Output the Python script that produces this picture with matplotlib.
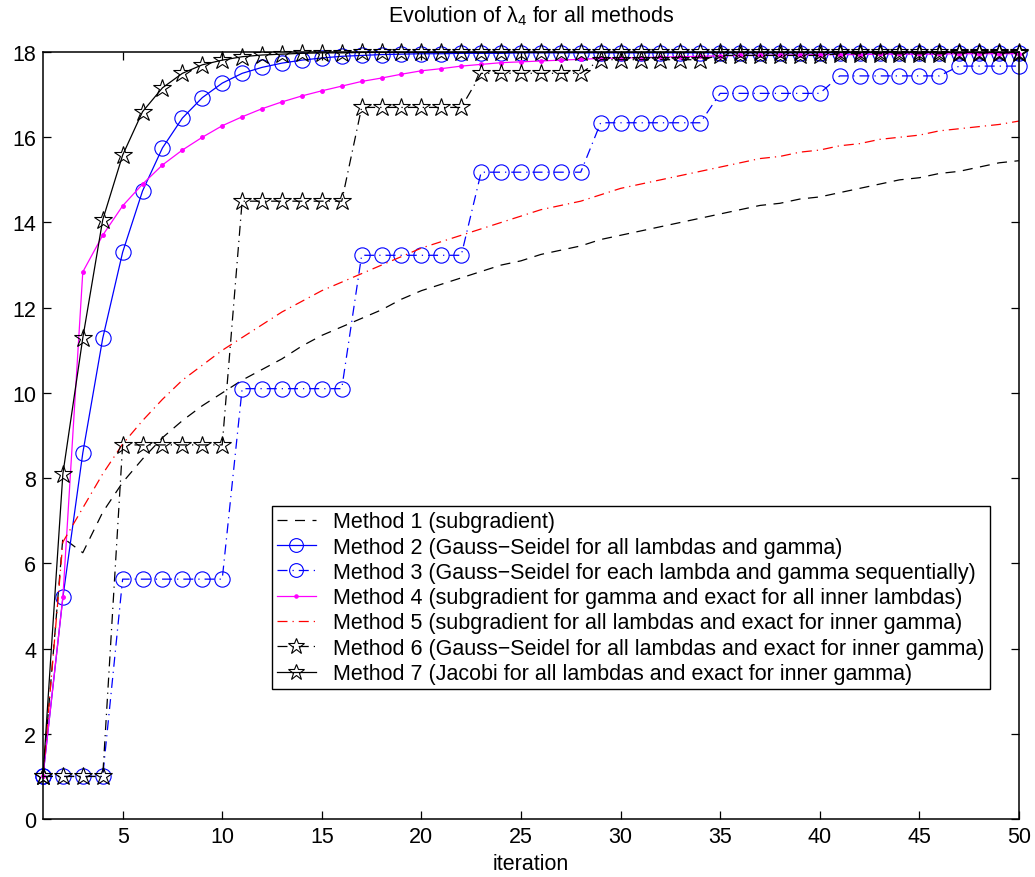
import matplotlib
matplotlib.use('Agg')
import matplotlib.pyplot as plt
import numpy as np

plt.rcParams['font.family'] = ['Liberation Sans', 'DejaVu Sans']
plt.rcParams['mathtext.fontset'] = 'custom'
plt.rcParams['mathtext.rm'] = 'Liberation Sans'
plt.rcParams['mathtext.it'] = 'Liberation Sans'
plt.rcParams['font.size'] = 15.5

# iterations 1..50
iterations = list(range(1, 51))

# Method 1 (subgradient)
m1 = [1.0, 6.6, 6.25, 7.2, 7.9, 8.45, 8.95, 9.35, 9.7, 10.0,
      10.3, 10.55, 10.8, 11.1, 11.35, 11.55, 11.75, 11.95, 12.2, 12.4,
      12.55, 12.7, 12.85, 13.0, 13.1, 13.25, 13.35, 13.45, 13.6, 13.7,
      13.8, 13.9, 14.0, 14.1, 14.2, 14.3, 14.4, 14.45, 14.55, 14.6,
      14.7, 14.8, 14.9, 15.0, 15.05, 15.15, 15.2, 15.3, 15.4, 15.45]

# Method 2 (Gauss-Seidel for all lambdas and gamma)
m2 = [1.0, 5.2, 8.59, 11.28, 13.3, 14.74, 15.75, 16.45, 16.93, 17.27,
      17.5, 17.64, 17.74, 17.81, 17.86, 17.9, 17.92, 17.94, 17.95, 17.96,
      17.96, 17.97, 17.97, 17.97, 17.98, 17.98, 17.98, 17.98, 17.98, 17.98,
      17.98, 17.98, 17.98, 17.98, 17.98, 17.98, 17.98, 17.98, 17.98, 17.98,
      17.98, 17.98, 17.98, 17.98, 17.98, 17.98, 17.98, 17.98, 17.98, 17.98]

# Method 3 (Gauss-Seidel for each lambda and gamma sequentially)
m3 = [1.0, 1.0, 1.0, 1.0, 5.63, 5.63, 5.63, 5.63, 5.63, 5.63,
      10.1, 10.1, 10.1, 10.1, 10.1, 10.1, 13.23, 13.23, 13.23, 13.23,
      13.23, 13.23, 15.18, 15.18, 15.18, 15.18, 15.18, 15.18, 16.34, 16.34,
      16.34, 16.34, 16.34, 16.34, 17.03, 17.03, 17.03, 17.03, 17.03, 17.03,
      17.44, 17.44, 17.44, 17.44, 17.44, 17.44, 17.67, 17.67, 17.67, 17.67]

# Method 4 (subgradient for gamma and exact for all inner lambdas)
m4 = [1.0, 5.2, 12.84, 13.7, 14.39, 14.9, 15.35, 15.7, 16.0, 16.27,
      16.48, 16.67, 16.83, 16.97, 17.09, 17.2, 17.31, 17.39, 17.48, 17.56,
      17.61, 17.67, 17.71, 17.75, 17.77, 17.79, 17.81, 17.83, 17.85, 17.86,
      17.87, 17.88, 17.89, 17.9, 17.91, 17.92, 17.92, 17.93, 17.93, 17.94,
      17.94, 17.94, 17.95, 17.95, 17.95, 17.95, 17.96, 17.96, 17.96, 17.96]

# Method 5 (subgradient for all lambdas and exact for inner gamma)
m5 = [1.0, 6.5, 7.3, 8.1, 8.8, 9.35, 9.85, 10.3, 10.65, 11.0,
      11.3, 11.6, 11.9, 12.15, 12.4, 12.6, 12.8, 13.0, 13.2, 13.4,
      13.55, 13.7, 13.85, 14.0, 14.15, 14.3, 14.4, 14.5, 14.65, 14.8,
      14.9, 15.0, 15.1, 15.2, 15.3, 15.4, 15.5, 15.55, 15.65, 15.7,
      15.8, 15.85, 15.95, 16.0, 16.05, 16.15, 16.2, 16.25, 16.3, 16.38]

# Method 6 (Gauss-Seidel for all lambdas and exact for inner gamma)
m6 = [1.0, 1.0, 1.0, 1.0, 8.78, 8.78, 8.78, 8.78, 8.78, 8.78,
      14.5, 14.5, 14.5, 14.5, 14.5, 14.5, 16.7, 16.7, 16.7, 16.7,
      16.7, 16.7, 17.5, 17.5, 17.5, 17.5, 17.5, 17.5, 17.82, 17.82,
      17.82, 17.82, 17.82, 17.82, 17.92, 17.92, 17.92, 17.92, 17.92, 17.92,
      17.96, 17.96, 17.96, 17.96, 17.96, 17.96, 17.98, 17.98, 17.98, 17.98]

# Method 7 (Jacobi for all lambdas and exact for inner gamma)
m7 = [1.0, 8.1, 11.29, 14.06, 15.58, 16.6, 17.16, 17.5, 17.7, 17.81,
      17.89, 17.93, 17.95, 17.97, 17.98, 17.98, 17.99, 17.99, 17.99, 17.99,
      17.99, 17.99, 17.99, 17.99, 17.99, 17.99, 17.99, 17.99, 17.99, 17.99,
      17.99, 17.99, 17.99, 17.99, 17.99, 17.99, 17.99, 17.99, 17.99, 17.99,
      17.99, 17.99, 17.99, 17.99, 17.99, 17.99, 17.99, 17.99, 17.99, 17.99]

labels = [
    'Method 1 (subgradient)',
    'Method 2 (Gauss\u2212Seidel for all lambdas and gamma)',
    'Method 3 (Gauss\u2212Seidel for each lambda and gamma sequentially)',
    'Method 4 (subgradient for gamma and exact for all inner lambdas)',
    'Method 5 (subgradient for all lambdas and exact for inner gamma)',
    'Method 6 (Gauss\u2212Seidel for all lambdas and exact for inner gamma)',
    'Method 7 (Jacobi for all lambdas and exact for inner gamma)',
]

fig = plt.figure(figsize=(10.35, 8.78), dpi=100)
ax = fig.add_axes([0.0415, 0.066, 0.943, 0.8736])

lw = 0.9
dashdot = (0, (8, 4, 1, 4))
ax.plot(iterations, m1, color='k', lw=lw, linestyle=(0, (8, 6)), label=labels[0])
ax.plot(iterations, m2, color='b', lw=lw, marker='o', ms=11, mfc='none', mew=0.8,
        label=labels[1], clip_on=False)
ax.plot(iterations, m3, color='b', lw=lw, linestyle=dashdot, marker='o', ms=11,
        mfc='none', mew=0.8, label=labels[2], clip_on=False)
ax.plot(iterations, m4, color='#ff00ff', lw=lw, marker='.', ms=5, label=labels[3],
        clip_on=False)
ax.plot(iterations, m5, color='r', lw=lw, linestyle=dashdot, label=labels[4])
ax.plot(iterations, m6, color='k', lw=lw, linestyle=dashdot, marker='*', ms=13.5,
        mfc='none', mew=0.8, label=labels[5], clip_on=False)
ax.plot(iterations, m7, color='k', lw=lw, marker='*', ms=13.5, mfc='none', mew=0.8,
        label=labels[6], clip_on=False)

ax.set_xlim(1, 50)
ax.set_ylim(0, 18)
ax.set_xticks(np.arange(5, 51, 5))
ax.set_yticks(np.arange(0, 19, 2))
ax.tick_params(direction='in', top=True, right=True, length=6, width=0.9, pad=5)
for s in ax.spines.values():
    s.set_linewidth(1.1)

ax.set_title(r'Evolution of $\lambda_4$ for all methods', fontsize=15.5, pad=22)
ax.set_xlabel('iteration', labelpad=4)

leg = ax.legend(loc='lower right', bbox_to_anchor=(0.970, 0.169), borderaxespad=0,
                fancybox=False, framealpha=1, edgecolor='k', fontsize=15.5,
                handlelength=1.8, labelspacing=0.2, borderpad=0.25,
                handletextpad=0.8, markerscale=0.9)
leg.get_frame().set_linewidth(1.0)

fig.savefig('out.png', dpi=100, facecolor='white')
